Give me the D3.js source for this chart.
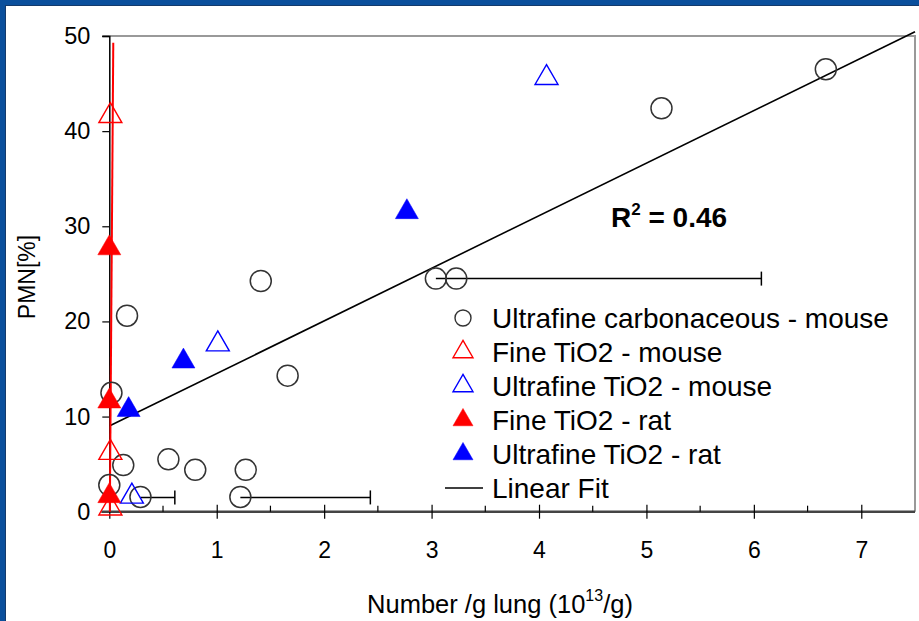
<!DOCTYPE html>
<html><head><meta charset="utf-8">
<script src="https://cdn.jsdelivr.net/npm/d3@7"></script>
<style>
body{margin:0;background:#fff;}
svg{display:block;font-family:"Liberation Sans",Arial,sans-serif;}
</style>
</head><body>
<svg id="chart" width="919" height="621"></svg>
<script>
// ---- data ----
const carbonX = [6.67, 5.14, 3.04, 3.23, 1.41, 0.165, 1.66, 0.02, 0.13, 0.55, 0.80, 1.27, 0.0, 0.29, 1.22];
const carbonY = [46.5, 42.4, 24.5, 24.5, 24.25, 20.6, 14.3, 12.5, 4.9, 5.5, 4.4, 4.4, 2.8, 1.55, 1.55];
const fineMouseX = [0.01, 0.01, 0.01];
const fineMouseY = [41.6, 6.2, 0.35];
const ufMouseX = [4.07, 1.01, 0.21];
const ufMouseY = [45.6, 17.6, 1.6];
const fineRatX = [0.0, 0.0, 0.0];
const fineRatY = [27.7, 11.6, 1.65];
const ufRatX = [2.77, 0.69, 0.18];
const ufRatY = [31.5, 15.8, 10.7];
const errStartX = [3.04, 0.29, 1.22];
const errEndX = [6.07, 0.61, 2.43];
const errY = [24.5, 1.5, 1.5];
const fitX = [0, 7.5];
const fitY = [9.0, 50.45];
const redFitX = [0.005, 0.037];
const redFitY = [0, 49.3];
const xTicks = [0, 1, 2, 3, 4, 5, 6, 7];
const xMinorTicks = [0.5, 1.5, 2.5, 3.5, 4.5, 5.5, 6.5];
const yTicks = [0, 10, 20, 30, 40, 50];
const legendLabels = ["Ultrafine carbonaceous - mouse", "Fine TiO2 - mouse", "Ultrafine TiO2 - mouse", "Fine TiO2 - rat", "Ultrafine TiO2 - rat", "Linear Fit"];
const rSquaredLabel = "0.46";

// ---- layout ----
const svg = d3.select("#chart");
const L = 109.3, R = 915, T = 36, B = 511.7;
const x = d3.scaleLinear().domain([0, 7.5]).range([L, R]);
const y = d3.scaleLinear().domain([0, 50]).range([B, T]);

// frame
svg.append("rect").attr("x", 0).attr("y", 0).attr("width", 919).attr("height", 621).attr("fill", "#0a4f9c");
svg.append("rect").attr("x", 5).attr("y", 5).attr("width", 914).attr("height", 616).attr("fill", "#143a6b");
svg.append("rect").attr("x", 6).attr("y", 6).attr("width", 913).attr("height", 615).attr("fill", "#ffffff");

// plot border (top & right, grey)
svg.append("path").attr("d", `M${L - 7},${T}H${R}V${B}`).attr("fill", "none").attr("stroke", "#999").attr("stroke-width", 2);

// y axis
const yAxis = d3.axisLeft(y).tickValues(yTicks).tickSize(7).tickPadding(12).tickFormat(d3.format("d"));
const gy = svg.append("g").attr("transform", `translate(${L},0)`).call(yAxis);
gy.select(".domain").attr("stroke", "#000").attr("stroke-width", 1.5);
gy.selectAll(".tick line").attr("stroke", "#000").attr("stroke-width", 1.2);
gy.selectAll(".tick text").attr("font-size", 23.5).attr("fill", "#000").attr("font-family", "Liberation Sans, Arial, sans-serif");

// x axis
const xAxis = d3.axisBottom(x).tickValues(xTicks).tickSize(7).tickPadding(23).tickFormat(d3.format("d"));
const gx = svg.append("g").attr("transform", `translate(0,${B})`).call(xAxis);
gx.select(".domain").attr("stroke", "#444").attr("stroke-width", 2.5).attr("d", `M${L - 8},0H${R}`);
gx.selectAll(".tick line").attr("stroke", "#000").attr("stroke-width", 1.2).attr("y1", -7).attr("y2", 7);
gx.selectAll(".tick text").attr("font-size", 23).attr("fill", "#000").attr("font-family", "Liberation Sans, Arial, sans-serif");
svg.append("g").selectAll("line").data(xMinorTicks).join("line")
  .attr("x1", d => x(d)).attr("x2", d => x(d)).attr("y1", B - 6).attr("y2", B)
  .attr("stroke", "#000").attr("stroke-width", 1.2);

// axis titles
const xt = svg.append("text").attr("x", 500).attr("y", 613).attr("text-anchor", "middle").attr("font-size", 25.5).attr("fill", "#000");
xt.append("tspan").text("Number /g lung (10");
xt.append("tspan").attr("font-size", 16).attr("dy", -12).text("13");
xt.append("tspan").attr("dy", 12).text("/g)");
svg.append("text").attr("transform", "translate(35,277) rotate(-90)").attr("text-anchor", "middle").attr("font-size", 23).attr("fill", "#000").text("PMN[%]");

// error bars
const gErr = svg.append("g").attr("stroke", "#000").attr("stroke-width", 1.5);
errY.forEach((v, i) => {
  gErr.append("line").attr("x1", x(errStartX[i])).attr("x2", x(errEndX[i])).attr("y1", y(v)).attr("y2", y(v));
  gErr.append("line").attr("x1", x(errEndX[i])).attr("x2", x(errEndX[i])).attr("y1", y(v) - 7).attr("y2", y(v) + 7);
});

// fit lines
const line = d3.line().x(d => x(d[0])).y(d => y(d[1]));
svg.append("path").datum(d3.zip(fitX, fitY)).attr("d", line).attr("fill", "none").attr("stroke", "#000").attr("stroke-width", 1.6);
svg.append("path").datum(d3.zip(redFitX, redFitY)).attr("d", line).attr("fill", "none").attr("stroke", "#ff0000").attr("stroke-width", 2);

// markers
const triArea = Math.sqrt(3) / 4 * 23 * 23;
const tri = d3.symbol().type(d3.symbolTriangle).size(triArea);
function tris(xs, ys, color, filled) {
  svg.append("g").selectAll("path").data(d3.zip(xs, ys)).join("path")
    .attr("d", tri).attr("transform", d => `translate(${x(d[0])},${y(d[1])})`)
    .attr("fill", filled ? color : "none").attr("stroke", color).attr("stroke-width", filled ? 0.5 : 1.4);
}
svg.append("g").selectAll("circle").data(d3.zip(carbonX, carbonY)).join("circle")
  .attr("cx", d => x(d[0])).attr("cy", d => y(d[1])).attr("r", 10.5)
  .attr("fill", "none").attr("stroke", "#333").attr("stroke-width", 1.5);
tris(fineMouseX, fineMouseY, "#ff0000", false);
tris(ufMouseX, ufMouseY, "#0000ff", false);
tris(fineRatX, fineRatY, "#ff0000", true);
tris(ufRatX, ufRatY, "#0000ff", true);

// R^2 label
const rt = svg.append("text").attr("x", 611).attr("y", 227).attr("font-size", 28).attr("font-weight", "bold").attr("fill", "#000");
rt.append("tspan").text("R");
rt.append("tspan").attr("font-size", 17).attr("dy", -12).text("2");
rt.append("tspan").attr("dy", 12).text(" = " + rSquaredLabel);

// legend
const legRowY = d3.scaleLinear().domain([0, 5]).range([318, 488]);
const lg = svg.append("g");
const legTri = d3.symbol().type(d3.symbolTriangle).size(Math.sqrt(3) / 4 * 20 * 20);
legendLabels.forEach((lab, i) => {
  const cy = legRowY(i);
  if (i === 0) {
    lg.append("circle").attr("cx", 463).attr("cy", cy).attr("r", 8).attr("fill", "none").attr("stroke", "#333").attr("stroke-width", 1.4);
  } else if (i === 5) {
    lg.append("line").attr("x1", 445).attr("x2", 483).attr("y1", cy).attr("y2", cy).attr("stroke", "#000").attr("stroke-width", 1.5);
  } else {
    const color = (i === 1 || i === 3) ? "#ff0000" : "#0000ff";
    const filled = i >= 3;
    lg.append("path").attr("d", legTri).attr("transform", `translate(463,${cy})`)
      .attr("fill", filled ? color : "none").attr("stroke", color).attr("stroke-width", filled ? 0.5 : 1.4);
  }
  lg.append("text").attr("x", 492).attr("y", cy + 9.5).attr("font-size", 28).attr("fill", "#000").text(lab);
});
</script>
</body></html>
